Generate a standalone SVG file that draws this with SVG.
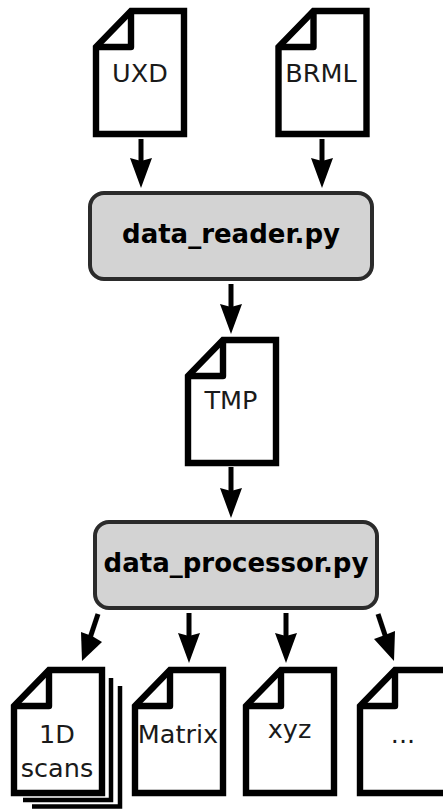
<svg xmlns="http://www.w3.org/2000/svg" width="443" height="809" viewBox="0 0 443 809">
<style>
.doc{fill:#fff;stroke:#000;stroke-width:6.400;stroke-linejoin:miter}
.fold{fill:none;stroke:#000;stroke-width:6.400;stroke-linejoin:round}
.lbl{font-family:"DejaVu Sans",sans-serif;font-size:25.500px;fill:#1a1a1a;text-anchor:middle}
.box{fill:#d3d3d3;stroke:#2b2b2b;stroke-width:4}
.title{font-family:"DejaVu Sans",sans-serif;font-size:26px;font-weight:bold;fill:#000;text-anchor:middle}
.line{fill:none;stroke:#000;stroke-width:5}
.stack{fill:none;stroke:#000;stroke-width:4.500}
</style>
<defs>
<g id="doc"><path class="doc" d="M3,39 L38,3 H91 V126 H3 Z"/><path class="fold" d="M38,3 V39 H3"/></g>
</defs>
<rect width="443" height="809" fill="#fff"/>
<g id="connectors">
<path class="line" d="M141,139 V165"/><path d="M141,188 L130,158 L141,161 L152,158 Z"/>
<path class="line" d="M322,139 V165"/><path d="M322,188 L311,158 L322,161 L333,158 Z"/>
<path class="line" d="M231,284 V311"/><path d="M231,334 L220,304 L231,307 L242,304 Z"/>
<path class="line" d="M231,467 V495"/><path d="M231,518 L220,488 L231,491 L242,488 Z"/>
<path class="line" d="M98,614 L90,638"/><path d="M82,661 L81,632 L92,636 L102,642 Z"/>
<path class="line" d="M189,613 V640"/><path d="M189,663 L178,633 L189,636 L200,633 Z"/>
<path class="line" d="M286,613 V640"/><path d="M286,663 L275,633 L286,636 L297,633 Z"/>
<path class="line" d="M378,614 L386,638"/><path d="M394,661 L374,639 L385,635 L395,631 Z"/>
</g>
<g id="uxd"><use href="#doc" x="93" y="8"/><text class="lbl" x="140" y="82">UXD</text></g>
<g id="brml"><use href="#doc" x="275.500" y="8"/><text class="lbl" x="321" y="82">BRML</text></g>
<g id="data_reader"><rect class="box" x="90" y="193" width="282" height="86" rx="14"/><text class="title" x="231" y="243">data_reader.py</text></g>
<g id="tmp"><use href="#doc" x="185" y="337"/><text class="lbl" x="231" y="409">TMP</text></g>
<g id="data_processor"><rect class="box" x="95" y="522" width="282" height="86" rx="14"/><text class="title" x="236" y="572">data_processor.py</text></g>
<g id="scans">
<path class="stack" d="M23,800 H111 V678"/><path class="stack" d="M32,806.500 H120 V686"/>
<use href="#doc" x="11" y="667"/><text class="lbl" x="57" y="743">1D</text><text class="lbl" x="57" y="777">scans</text></g>
<g id="matrix"><use href="#doc" x="132" y="667"/><text class="lbl" x="178" y="743">Matrix</text></g>
<g id="xyz"><use href="#doc" x="243" y="667"/><text class="lbl" x="289.500" y="738">xyz</text></g>
<g id="more"><use href="#doc" x="357" y="667"/><text class="lbl" x="403" y="743">...</text></g>
</svg>
